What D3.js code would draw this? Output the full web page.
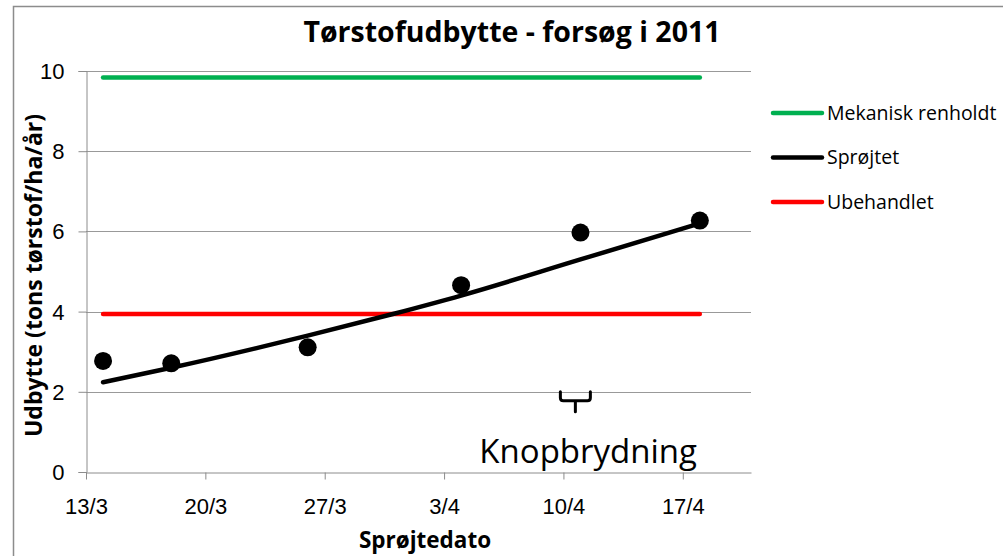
<!DOCTYPE html>
<html>
<head>
<meta charset="utf-8">
<script src="https://cdn.jsdelivr.net/npm/d3@7"></script>
<style>
  body { margin: 0; background: #fff; }
  svg { display: block; font-family: "Open Sans", Lato, sans-serif; }
</style>
</head>
<body>
<svg id="chart"></svg>
<script>
// dage efter 13/3-2011
const sprayDays = [1, 5, 13, 22, 29, 36];
const sprayYield = [2.77, 2.71, 3.11, 4.66, 5.97, 6.27];
const trendDays = [1, 5, 13, 18, 22, 29, 36];
const trendYield = [2.24, 2.6, 3.4, 3.94, 4.4, 5.3, 6.2];
const mechYield = 9.84;
const untreatedYield = 3.94;
const levelDays = [1, 36];
const xTickDays = [0, 7, 14, 21, 28, 35];
const xTickLabels = ["13/3", "20/3", "27/3", "3/4", "10/4", "17/4"];
const yTicks = [0, 2, 4, 6, 8, 10];
const legendNames = ["Mekanisk renholdt", "Sprøjtet", "Ubehandlet"];
const legendColors = ["#00b050", "#000000", "#ff0000"];

const width = 1003, height = 556;
const marginLeft = 86, marginRight = 252, marginTop = 71, marginBottom = 84;

const x = d3.scaleLinear([0, 39], [marginLeft, width - marginRight]);
const y = d3.scaleLinear([0, 10], [height - marginBottom, marginTop]);

const svg = d3.select("#chart")
  .attr("width", width)
  .attr("height", height)
  .attr("viewBox", [0, 0, width, height]);

// ramme
svg.append("rect")
  .attr("x", 13.5).attr("y", 6.5)
  .attr("width", width).attr("height", height)
  .attr("fill", "none")
  .attr("stroke", "#8c8c8c")
  .attr("stroke-width", 1.5);

// gitterlinjer
svg.append("g")
  .selectAll("line")
  .data(yTicks.filter(d => d > 0))
  .join("line")
  .attr("x1", marginLeft).attr("x2", width - marginRight)
  .attr("y1", d => Math.round(y(d)) + 0.5).attr("y2", d => Math.round(y(d)) + 0.5)
  .attr("stroke", "#999");

// y-akse
const gy = svg.append("g")
  .attr("transform", `translate(${marginLeft + 0.5},0)`)
  .call(d3.axisLeft(y).tickValues(yTicks).tickSize(8).tickPadding(14));
gy.select(".domain").attr("stroke", "#8c8c8c");
gy.selectAll(".tick line").attr("stroke", "#8c8c8c");
gy.selectAll(".tick text").attr("fill", "#000").style("font-size", "22px").attr("dy", "0.34em");

// x-akse
const gx = svg.append("g")
  .attr("transform", `translate(0,${height - marginBottom + 0.5})`)
  .call(d3.axisBottom(x).tickValues(xTickDays)
    .tickFormat((d, i) => xTickLabels[i])
    .tickSize(7).tickSizeOuter(0).tickPadding(19));
gx.select(".domain").attr("stroke", "#8c8c8c");
gx.selectAll(".tick line").attr("stroke", "#8c8c8c");
gx.selectAll(".tick text").attr("fill", "#000").style("font-size", "22px");

// vandrette niveauer
const levelLine = d3.line().x(d => x(d[0])).y(d => y(d[1]));
svg.append("path")
  .datum(levelDays.map(d => [d, mechYield]))
  .attr("d", levelLine)
  .attr("fill", "none").attr("stroke", legendColors[0])
  .attr("stroke-width", 4.5).attr("stroke-linecap", "round");
svg.append("path")
  .datum(levelDays.map(d => [d, untreatedYield]))
  .attr("d", levelLine)
  .attr("fill", "none").attr("stroke", legendColors[2])
  .attr("stroke-width", 4.5).attr("stroke-linecap", "round");

// tendenslinje
const trend = d3.line()
  .x((d, i) => x(trendDays[i]))
  .y(d => y(d))
  .curve(d3.curveMonotoneX);
svg.append("path")
  .datum(trendYield)
  .attr("d", trend)
  .attr("fill", "none").attr("stroke", "#000")
  .attr("stroke-width", 4.5).attr("stroke-linecap", "round");

// punkter
svg.append("g")
  .selectAll("circle")
  .data(sprayDays)
  .join("circle")
  .attr("cx", d => x(d))
  .attr("cy", (d, i) => y(sprayYield[i]))
  .attr("r", 9)
  .attr("fill", "#000");

// titel
svg.append("text")
  .attr("x", 512).attr("y", 42)
  .attr("text-anchor", "middle")
  .style("font-size", "28.5px").style("font-weight", "bold")
  .text("Tørstofudbytte - forsøg i 2011");

// aksetitler
svg.append("text")
  .attr("x", 425).attr("y", 548)
  .attr("text-anchor", "middle")
  .style("font-size", "22.5px").style("font-weight", "bold")
  .text("Sprøjtedato");
svg.append("text")
  .attr("transform", `translate(42,${(y(0) + y(10)) / 2 + 4}) rotate(-90)`)
  .attr("text-anchor", "middle")
  .style("font-size", "23px").style("font-weight", "bold")
  .text("Udbytte (tons tørstof/ha/år)");

// annotation: knopbrydning
const bx = x(28.7), by = y(2.0);
svg.append("path")
  .attr("d", `M${bx - 15},${by} v6 q0,3 3,3 h24 q3,0 3,-3 v-6 M${bx},${by + 9} v11`)
  .attr("fill", "none").attr("stroke", "#000")
  .attr("stroke-width", 3).attr("stroke-linecap", "round");
svg.append("text")
  .attr("x", x(29.45)).attr("y", y(0.22))
  .attr("text-anchor", "middle")
  .style("font-size", "33px")
  .text("Knopbrydning");

// forklaring
const legend = svg.append("g")
  .selectAll("g")
  .data(legendNames)
  .join("g")
  .attr("transform", (d, i) => `translate(773,${113 + i * 44.5})`);
legend.append("line")
  .attr("x1", 0).attr("x2", 49)
  .attr("stroke", (d, i) => legendColors[i])
  .attr("stroke-width", 4.5).attr("stroke-linecap", "round");
legend.append("text")
  .attr("x", 54).attr("dy", "0.35em")
  .style("font-size", "19.5px")
  .text(d => d);
</script>
</body>
</html>
